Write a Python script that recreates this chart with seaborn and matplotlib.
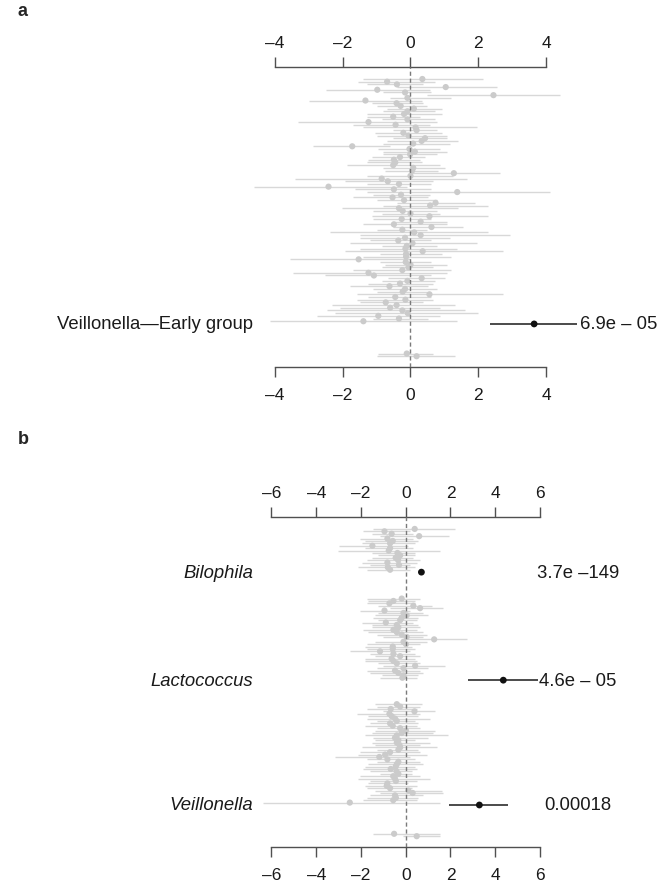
import numpy as np
import pandas as pd
import matplotlib
matplotlib.use("Agg")
import matplotlib.pyplot as plt
import matplotlib.transforms as mtransforms
import seaborn as sns

# ---- panel a : one block of taxa, Veillonella highlighted ----
a_est = [0.35, -0.69, -0.40, 1.04, -0.98, -0.16, 2.45, -0.09, -1.33, -0.41,
         -0.29, 0.10, -0.09, -0.19, -0.51, -0.09, -1.24, -0.44, 0.15, 0.18,
         -0.21, -0.06, 0.43, 0.33, 0.08, -1.72, -0.03, 0.13, -0.01, -0.31,
         -0.49, -0.45, -0.51, 0.08, 0.05, 1.28, 0.00, -0.85, -0.67, -0.34,
         -2.42, -0.49, 1.38, -0.28, -0.53, -0.19, 0.74, 0.58, -0.34, -0.23,
         0.00, 0.56, -0.26, 0.30, -0.49, 0.62, -0.24, 0.11, 0.30, -0.16,
         -0.36, 0.06, -0.11, -0.15, 0.36, -0.13, -0.13, -1.53, -0.14, 0.00,
         -0.06, -0.24, -1.24, -1.08, 0.33, -0.09, -0.31, -0.62, -0.16, -0.23,
         0.56, -0.45, -0.15, -0.73, -0.41, -0.60, -0.24, -0.08, -0.95, -0.34,
         -1.39]
a_lo = [-1.39, -1.54, -1.29, -0.41, -2.49, -0.80, 0.48, -0.60, -3.01, -1.15,
        -1.00, -0.70, -0.80, -1.29, -1.29, -0.85, -3.31, -1.69, -1.39, -0.51,
        -1.05, -1.00, -0.51, -0.70, -0.80, -2.87, -0.95, -0.80, -0.80, -1.15,
        -1.24, -1.29, -1.88, -0.80, -0.75, -0.01, -1.29, -3.41, -1.93, -1.29,
        -4.62, -1.64, -1.29, -1.10, -1.69, -1.00, -0.41, -0.80, -2.03, -1.10,
        -0.85, -1.15, -1.10, -0.56, -1.39, -0.51, -1.00, -2.37, -1.49, -1.49,
        -1.19, -1.78, -0.85, -1.49, -1.93, -0.90, -1.39, -3.57, -0.90, -0.75,
        -0.85, -1.69, -3.46, -2.52, -0.65, -0.85, -1.24, -1.78, -1.10, -1.00,
        -1.59, -1.24, -1.59, -1.49, -2.32, -2.08, -2.47, -2.23, -2.77, -1.10,
        -4.14]
a_hi = [2.13, 0.72, 0.38, 2.54, 0.58, 0.62, 4.41, 1.21, 0.33, 0.38,
        0.48, 0.92, 0.72, 0.92, 0.28, 0.72, 0.77, 0.58, 1.95, 0.77,
        0.92, 1.07, 1.07, 1.41, 1.17, -0.60, 0.87, 1.07, 0.77, 0.43,
        0.28, 0.33, 0.87, 1.02, 0.82, 2.64, 1.26, 1.66, 0.67, 0.62,
        -0.11, 0.62, 4.12, 0.58, 0.53, 0.77, 1.90, 2.30, 1.41, 0.77,
        0.87, 2.30, 0.62, 1.07, 1.07, 1.56, 0.48, 2.30, 2.94, 1.17,
        0.62, 1.95, 0.77, 1.36, 2.74, 0.92, 1.21, -0.01, 0.62, 1.07,
        0.67, 1.21, 1.07, 0.62, 1.02, 0.72, 0.67, 0.53, 0.77, 0.48,
        2.74, 0.62, 0.67, 0.38, 1.31, 0.87, 1.61, 2.00, 0.87, 0.53,
        1.36]
a_tail_est = [-0.11, 0.18]
a_tail_lo = [-0.95, -1.00]
a_tail_hi = [0.67, 1.31]
a_hit_name = "Veillonella—Early group"
a_hit = (3.65, 2.35, 4.93)
a_hit_p = "6.9e – 05"
a_ticks = [-4, -2, 0, 2, 4]

# ---- panel b : three blocks, each ending with a highlighted genus ----
b1_est = [0.40, -0.95, -0.63, 0.60, -0.82, -0.58, -0.70, -1.49, -0.70, -0.76,
          -0.37, -0.25, -0.45, -0.34, -0.82, -0.30, -0.80, -0.70]
b1_lo = [-1.45, -1.89, -1.52, -1.15, -2.04, -1.82, -1.97, -2.97, -1.82, -3.01,
         -1.52, -1.22, -1.52, -1.74, -1.97, -1.59, -2.12, -1.74]
b1_hi = [2.21, 0.19, 0.34, 1.95, 0.34, 0.57, 0.42, 0.12, 0.34, 1.53,
         0.42, 0.42, 0.34, 0.64, 0.49, 0.19, 0.42, 0.19]
b2_est = [-0.18, -0.55, -0.73, 0.34, 0.64, -0.95, -0.10, 0.04, -0.18, -0.25,
          -0.89, -0.40, -0.33, -0.55, -0.40, -0.18, 0.04, 1.27, -0.10, 0.01,
          -0.58, -0.58, -1.15, -0.55, -0.25, -0.63, -0.55, -0.40, 0.42, -0.10,
          -0.48, -0.33, -0.10, -0.15]
b2_lo = [-1.74, -1.67, -1.74, -1.22, -0.70, -2.04, -1.22, -1.37, -1.45, -1.22,
         -1.97, -1.52, -1.52, -1.89, -1.67, -1.30, -1.00, -0.10, -1.37, -1.74,
         -1.82, -1.74, -2.49, -1.59, -1.37, -1.82, -1.82, -1.22, -1.00, -1.30,
         -1.74, -1.59, -1.07, -1.15]
b2_hi = [0.64, 0.42, 0.42, 1.16, 1.68, 0.19, 0.79, 1.01, 0.57, 0.49,
         0.34, 0.57, 0.64, 0.49, 0.79, 0.94, 0.79, 2.73, 0.94, 0.64,
         0.27, 0.42, 0.19, 0.42, 0.64, 0.42, 0.49, 0.64, 1.76, 1.01,
         0.64, 0.79, 0.57, 0.49]
b3_est = [-0.40, -0.25, -0.67, 0.39, -0.73, -0.63, -0.48, -0.40, -0.70, -0.58,
          -0.25, 0.01, -0.18, -0.40, -0.48, -0.33, -0.40, -0.28, -0.25, -0.33,
          -0.70, -0.92, -1.18, -0.82, -0.33, -0.40, -0.45, -0.67, -0.41, -0.33,
          -0.56, -0.48, -0.44, -0.82, -0.85, -0.70, 0.12, 0.31, -0.48, -0.44,
          -0.56, -2.50]
b3_lo = [-1.37, -1.30, -1.74, -1.00, -2.19, -1.67, -1.74, -1.30, -1.59, -1.82,
         -1.30, -1.37, -1.52, -1.82, -1.45, -1.37, -1.52, -1.37, -1.97, -1.30,
         -2.04, -2.12, -3.16, -1.74, -1.30, -1.67, -1.82, -1.90, -1.60, -1.15,
         -2.05, -2.12, -1.60, -1.68, -1.82, -1.75, -1.38, -1.15, -1.60, -1.75,
         -1.90, -6.40]
b3_hi = [0.72, 0.64, 0.49, 1.31, 0.64, 0.57, 1.09, 0.42, 0.57, 0.49,
         0.64, 1.31, 1.24, 1.91, 1.01, 0.42, 1.09, 0.64, 1.39, 0.57,
         0.64, 0.94, 0.19, 0.42, 0.64, 0.79, 0.42, 0.49, 0.26, 0.26,
         0.64, 1.08, 0.49, 0.12, 0.49, 0.26, 1.60, 1.65, 0.78, 0.56,
         0.49, 1.53]
b_tail_est = [-0.52, 0.49]
b_tail_lo = [-1.46, -0.12]
b_tail_hi = [1.53, 1.53]
b_hit_names = ["Bilophila", "Lactococcus", "Veillonella"]
b_hit_est = [0.70, 4.36, 3.29]
b_hit_lo = [0.62, 2.77, 1.95]
b_hit_hi = [0.78, 5.90, 4.58]
b_hit_p = ["3.7e –149", "4.6e – 05", "0.00018"]
b_ticks = [-6, -4, -2, 0, 2, 4, 6]

sns.set_style("white")
plt.rcParams["font.family"] = ["Liberation Sans", "DejaVu Sans"]

GREY_LINE = "#d8d8d8"
GREY_DOT = "#cbcbcb"
AXIS = "#505050"


def build(blocks, gaps, tail):
    # stack blocks of rows; each block ends with its highlighted row,
    # then a number of empty rows before the next block
    rows, hits = [], []
    r = 0
    for (est, lo, hi), gap in zip(blocks, gaps):
        for e, l, h in zip(est, lo, hi):
            rows.append((r, e, l, h))
            r += 1
        hits.append(r)
        r += 1 + gap
    for e, l, h in zip(*tail):
        rows.append((r, e, l, h))
        r += 1
    return pd.DataFrame(rows, columns=["row", "est", "lo", "hi"]), hits


def panel(ax, df, hits, hit_est, hit_lo, hit_hi, names, pvals, ticks,
          xlim, ylim, name_style, p_x):
    ax.hlines(df["row"], df["lo"], df["hi"], color=GREY_LINE, lw=1.0, zorder=1)
    sns.scatterplot(x=df["est"], y=df["row"], color=GREY_DOT, s=20,
                    edgecolor="none", ax=ax, zorder=2)
    ax.axvline(0, color="#7a7a7a", lw=1, ls=(0, (3, 2)), zorder=3)
    ax.hlines(hits, hit_lo, hit_hi, color="#1a1a1a", lw=1.1, zorder=4)
    sns.scatterplot(x=hit_est, y=hits, color="#111111", s=24,
                    edgecolor="none", ax=ax, zorder=5)
    tr = ax.get_yaxis_transform()
    for y, n, p in zip(hits, names, pvals):
        ax.text(0.3765, y, n, transform=tr, ha="right", va="center",
                fontsize=13.3, style=name_style, color="#1a1a1a")
        ax.text(p_x, y, p, transform=tr, ha="center", va="center",
                fontsize=13.3, color="#1a1a1a")
    ax.set_xlim(*xlim)
    ax.set_ylim(*ylim)
    ax.set_xlabel("")
    ax.set_ylabel("")
    ax.set_yticks([])
    ax.set_xticks(ticks)
    ax.set_xticklabels([str(t).replace("-", "–") for t in ticks])
    for s in ["left", "right"]:
        ax.spines[s].set_visible(False)
    for s in ["top", "bottom"]:
        ax.spines[s].set_visible(True)
        ax.spines[s].set_bounds(ticks[0], ticks[-1])
        ax.spines[s].set_color(AXIS)
        ax.spines[s].set_linewidth(1.0)
    ax.tick_params(axis="x", top=True, labeltop=True, bottom=True,
                   labelbottom=True, direction="out", length=7.5, width=1,
                   color=AXIS, labelsize=12.5, pad=4.6, labelcolor="#1a1a1a")
    # bottom labels sit a little lower than the top ones in the original
    shift = mtransforms.ScaledTranslation(0, -3 / 100, ax.figure.dpi_scale_trans)
    for t in ax.xaxis.get_major_ticks():
        t.label1.set_transform(t.label1.get_transform() + shift)
    ax.patch.set_visible(False)


fig = plt.figure(figsize=(6.72, 8.87), dpi=100)

df_a, hits_a = build([(a_est, a_lo, a_hi)], [10], (a_tail_est, a_tail_lo, a_tail_hi))
ax_a = fig.add_axes([0, 1 - 368 / 887, 1, 300 / 887])
panel(ax_a, df_a, hits_a, [a_hit[0]], [a_hit[1]], [a_hit[2]], [a_hit_name],
      [a_hit_p], a_ticks, (-12.118, 7.720), (107.0, -4.46), "normal", 0.921)

df_b, hits_b = build([(b1_est, b1_lo, b1_hi), (b2_est, b2_lo, b2_hi),
                      (b3_est, b3_lo, b3_hi)], [10, 9, 11],
                     (b_tail_est, b_tail_lo, b_tail_hi))
ax_b = fig.add_axes([0, 1 - 848 / 887, 1, 330.3 / 887])
panel(ax_b, df_b, hits_b, b_hit_est, b_hit_lo, b_hit_hi, b_hit_names,
      b_hit_p, b_ticks, (-18.134, 11.9), (132.5, -5.1), "italic", 0.860)

fig.text(18 / 672, 1 - 12 / 887, "a", fontsize=13, fontweight="bold", va="center")
fig.text(18 / 672, 1 - 440 / 887, "b", fontsize=13, fontweight="bold", va="center")

fig.savefig("out.png", dpi=100)
